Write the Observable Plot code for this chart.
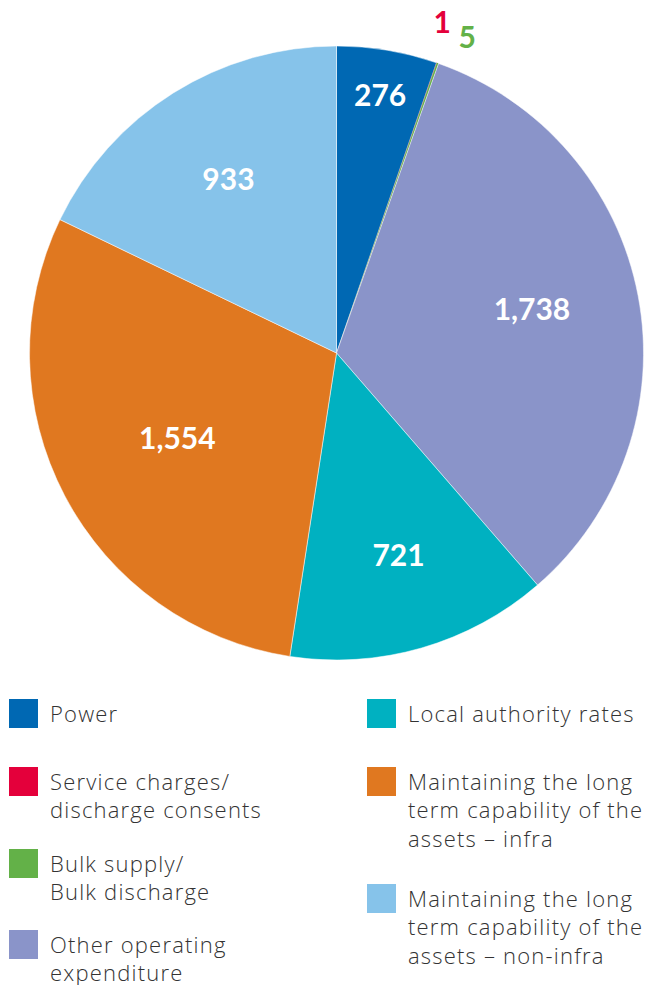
<!DOCTYPE html>
<html>
<head>
<meta charset="utf-8">
<script src="https://cdn.jsdelivr.net/npm/d3@7"></script>
<script src="https://cdn.jsdelivr.net/npm/@observablehq/plot@0.6"></script>
<style>
  html, body { margin: 0; padding: 0; background: #fff; }
  #page { position: relative; width: 649px; height: 985px; overflow: hidden; font-family: "Open Sans", Lato, sans-serif; }
  .item { position: absolute; display: flex; align-items: flex-start; }
  .swatch { width: 29px; height: 29px; flex: none; }
  .text { margin-left: 12px; font-size: 22px; line-height: 28.5px; letter-spacing: 1.2px; color: #333333; margin-top: -0.5px; font-weight: 300; white-space: nowrap; }
</style>
</head>
<body>
<div id="page"></div>
<script>
// ---- data ----
const categories = [
  "Power",
  "Service charges/discharge consents",
  "Bulk supply/Bulk discharge",
  "Other operating expenditure",
  "Local authority rates",
  "Maintaining the long term capability of the assets – infra",
  "Maintaining the long term capability of the assets – non-infra"
];
const values = [276, 1, 5, 1738, 721, 1554, 933];
const valueLabels = ["276", "1", "5", "1,738", "721", "1,554", "933"];
const colors = ["#0068b3", "#e4003b", "#63b148", "#8a94c9", "#00b1c1", "#e07820", "#86c3ea"];
const legendLines = [
  ["Power"],
  ["Service charges/", "discharge consents"],
  ["Bulk supply/", "Bulk discharge"],
  ["Other operating", "expenditure"],
  ["Local authority rates"],
  ["Maintaining the long", "term capability of the", "assets – infra"],
  ["Maintaining the long", "term capability of the", "assets – non-infra"]
];

// ---- layout (not data) ----
const labelLayout = [
  {r: 0.85, da: 0,    inside: true},
  {r: 1.13, da: -1.4, inside: false},
  {r: 1.11, da: 3.2,  inside: false},
  {r: 0.65, da: -1.6, inside: true},
  {r: 0.69, da: -0.8, inside: true},
  {r: 0.59, da: -0.4, inside: true},
  {r: 0.665, da: 0,   inside: true}
];
const legendPos = [
  {x: 9, y: 699}, {x: 9, y: 767}, {x: 9, y: 849}, {x: 9, y: 930},
  {x: 367, y: 699}, {x: 367, y: 767}, {x: 367, y: 884}
];

const data = categories.map((c, i) => ({category: c, value: values[i], label: valueLabels[i], color: colors[i], i}));

const arcs = d3.pie().sort(null).value(d => d.value).startAngle(0).endAngle(2 * Math.PI)(data);

const labels = arcs.map((a, i) => {
  const L = labelLayout[i];
  const ang = (a.startAngle + a.endAngle) / 2 + L.da * Math.PI / 180;
  return {
    x: L.r * Math.sin(ang),
    y: L.r * Math.cos(ang),
    label: a.data.label,
    category: a.data.category,
    inside: L.inside
  };
});

const colorScale = Plot.scale({color: {type: "ordinal", domain: categories, range: colors}});

function slices(index, scales) {
  const cx = scales.x(0), cy = scales.y(0);
  const r = scales.x(1) - scales.x(0);
  const arc = d3.arc().innerRadius(0).outerRadius(r);
  const g = d3.create("svg:g").attr("transform", `translate(${cx},${cy})`);
  g.selectAll("path").data(arcs).join("path")
    .attr("d", arc)
    .attr("fill", d => colorScale.apply(d.data.category))
    .attr("stroke", d => d.data.value < 10 ? "none" : "#ffffff")
    .attr("stroke-width", 0.5);
  return g.node();
}

const chart = Plot.plot({
  width: 649,
  height: 690,
  margin: 0,
  style: {background: "transparent", overflow: "visible"},
  x: {domain: [-1, 1], range: [29.5, 643.5], axis: null},
  y: {domain: [-1, 1], range: [660, 46], axis: null},
  marks: [
    slices,
    Plot.text(labels.filter(d => d.inside), {
      x: "x", y: "y", text: "label",
      fill: "#ffffff", fontSize: 30, fontWeight: 700,
      fontFamily: "Lato, 'Open Sans', sans-serif",
      textAnchor: "middle", lineAnchor: "middle"
    }),
    Plot.text(labels.filter(d => !d.inside), {
      x: "x", y: "y", text: "label",
      fill: d => colorScale.apply(d.category), fontSize: 30, fontWeight: 700,
      fontFamily: "Lato, 'Open Sans', sans-serif",
      textAnchor: "middle", lineAnchor: "middle"
    })
  ]
});
chart.style.position = "absolute";
chart.style.left = "0px";
chart.style.top = "0px";

const page = document.getElementById("page");
page.appendChild(chart);

data.forEach((d, i) => {
  const item = document.createElement("div");
  item.className = "item";
  item.style.left = legendPos[i].x + "px";
  item.style.top = legendPos[i].y + "px";
  const sw = document.createElement("div");
  sw.className = "swatch";
  sw.style.background = colorScale.apply(d.category);
  const tx = document.createElement("div");
  tx.className = "text";
  tx.innerHTML = legendLines[i].join("<br>");
  item.appendChild(sw);
  item.appendChild(tx);
  page.appendChild(item);
});
</script>
</body>
</html>
